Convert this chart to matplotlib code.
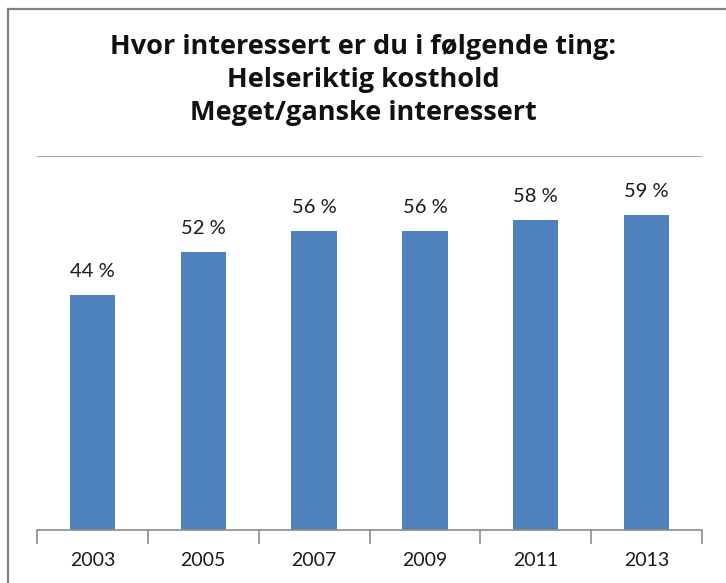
import matplotlib
matplotlib.use("Agg")
import matplotlib.pyplot as plt
from matplotlib.lines import Line2D

# DATA
years = ['2003', '2005', '2007', '2009', '2011', '2013']
values = [44, 52, 56, 56, 58, 59]

title_text = 'Hvor interessert er du i følgende ting:\nHelseriktig kosthold\nMeget/ganske interessert'

plt.rcParams['font.family'] = ['Lato', 'DejaVu Sans']

W, H = 726, 583
fig = plt.figure(figsize=(W / 100, H / 100), dpi=100)

# outer chart border (only top and left edges are in view)
bx, by = 7.5 / W, 1 - 8.5 / H
fig.lines.append(Line2D([bx, 1.0], [by, by], transform=fig.transFigure,
                        color='#808080', linewidth=1.6))
fig.lines.append(Line2D([bx, bx], [0.0, by], transform=fig.transFigure,
                        color='#808080', linewidth=1.6))

ax = fig.add_axes([37 / W, 1 - 530 / H, (702 - 37) / W, (530 - 156) / H])

x = list(range(len(years)))
ax.bar(x, values, width=0.41, color='#4F81BD')
for xi, v in zip(x, values):
    ax.text(xi, v + 2.8, f'{v} %', ha='center', va='bottom', fontsize=14.5,
            color='#1a1a1a')

ax.set_xlim(-0.5, len(years) - 0.5)
ax.set_ylim(0, 70)
ax.axhline(70, color='#a6a6a6', linewidth=1.4)

for s in ['left', 'right', 'top']:
    ax.spines[s].set_visible(False)
ax.spines['bottom'].set_color('#8c8c8c')
ax.spines['bottom'].set_linewidth(1.2)
ax.set_yticks([])

ax.set_xticks([i - 0.5 for i in range(len(years) + 1)], minor=False)
ax.set_xticklabels([])
ax.tick_params(axis='x', which='major', length=10, color='#8c8c8c', width=1.2)
ax.set_xticks(x, minor=True)
ax.set_xticklabels(years, minor=True)
ax.tick_params(axis='x', which='minor', length=0, pad=16, labelsize=14,
               labelcolor='#1a1a1a')

fig.text(0.5, 1 - 80 / H, title_text, ha='center', va='center',
         family=['Open Sans', 'DejaVu Sans'],
         fontsize=19.5, fontweight='bold', linespacing=1.35, color='#111111')

fig.savefig('out.png', dpi=100)
